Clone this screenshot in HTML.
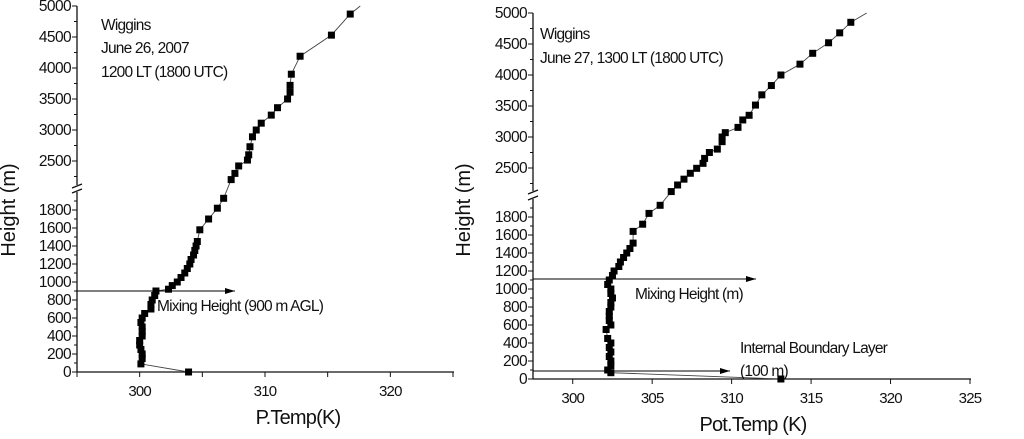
<!DOCTYPE html>
<html><head><meta charset="utf-8"><style>
body{margin:0;background:#fff;}
svg{display:block;font-family:"Liberation Sans",Arial,sans-serif;}
</style></head><body>
<svg id="chart" width="1024" height="439" viewBox="0 0 1024 439" xmlns="http://www.w3.org/2000/svg"></svg>
<script>
// Panel 1 data (June 26)
const temps1 = [303.9,300.1,300.2,300.2,300.1,300.0,300.0,300.2,300.2,300.2,300.1,300.2,300.4,300.9,300.9,301.0,301.2,301.3,302.3,302.6,303.0,303.3,303.6,303.8,304.0,304.1,304.3,304.4,304.5,304.6,304.8,305.5,306.2,306.7,307.3,307.6,307.9,308.6,308.7,308.8,309.0,309.3,309.7,310.5,311.0,311.8,312.0,312.0,312.1,312.8,315.3,316.8];
const heights1 = [0,90,150,200,250,300,350,400,450,500,550,600,650,700,750,800,850,900,920,960,1000,1050,1100,1150,1200,1250,1300,1350,1400,1450,1580,1700,1820,1930,2200,2300,2420,2515,2600,2730,2890,3000,3110,3240,3360,3500,3610,3720,3900,4190,4530,4870];
// Panel 2 data (June 27)
const temps2 = [313.1,302.4,302.2,302.4,302.4,302.3,302.4,302.3,302.4,302.2,302.1,302.4,302.3,302.3,302.3,302.4,302.4,302.5,302.4,302.4,302.2,302.3,302.5,302.6,302.9,303.0,303.2,303.4,303.6,303.8,303.8,304.4,304.8,305.5,306.2,306.6,307.0,307.4,307.8,308.2,308.3,308.6,309.1,309.4,309.4,309.6,310.4,310.7,311.1,311.5,311.9,312.5,313.1,314.3,315.1,316.1,316.8,317.5];
const heights2 = [0,70,100,150,200,250,300,350,400,450,550,600,650,700,750,800,850,900,950,1000,1050,1100,1150,1200,1250,1300,1350,1400,1450,1510,1640,1720,1840,1930,2120,2226,2320,2415,2495,2575,2655,2750,2805,2925,3000,3070,3155,3275,3350,3515,3680,3830,4000,4175,4350,4520,4680,4850];
const lowTicks = [0,200,400,600,800,1000,1200,1400,1600,1800];
const highTicks = [2500,3000,3500,4000,4500,5000];
const xTicks1 = [300,310,320];
const xTicks2 = [300,305,310,315,320,325];

const NS="http://www.w3.org/2000/svg";
const svg=document.getElementById('chart');
function mk(tag,attrs,parent){const e=document.createElementNS(NS,tag);for(const k in attrs)e.setAttribute(k,attrs[k]);(parent||svg).appendChild(e);return e;}
function txt(x,y,s,size,anchor,parent){const t=mk('text',{x:x,y:y,'font-size':size,'text-anchor':anchor||'start',fill:'#111'},parent);t.textContent=s;return t;}

function panel(cfg){
  const g=mk('g',{});
  
  
  const xs=v=>cfg.ax+(v-cfg.xmin)/(cfg.xmax-cfg.xmin)*(cfg.axEnd-cfg.ax);
  const ys=h=>h<=2000? cfg.y0-(h)*(162/1800) : cfg.y2500-(h-2500)*(31/500);
  const yax=mk('g',{},g);
  
  
  mk('line',{x1:cfg.ax,y1:cfg.y0,x2:cfg.ax,y2:cfg.breakLow,stroke:'#111','stroke-width':1.3},yax);
  mk('line',{x1:cfg.ax,y1:cfg.breakHigh,x2:cfg.ax,y2:ys(5000),stroke:'#111','stroke-width':1.3},yax);
  mk('line',{x1:cfg.ax-5,y1:cfg.breakLow+1,x2:cfg.ax+5,y2:cfg.breakLow-3,stroke:'#111','stroke-width':1.3},yax);
  mk('line',{x1:cfg.ax-5,y1:cfg.breakHigh+3,x2:cfg.ax+5,y2:cfg.breakHigh-1,stroke:'#111','stroke-width':1.3},yax);
  for(let h=0;h<=1900;h+=100){const y=ys(h);mk('line',{x1:cfg.ax-(h%200==0?5:3),y1:y,x2:cfg.ax,y2:y,stroke:'#111'},yax);}
  for(let h=2250;h<=5000;h+=250){const y=ys(h);mk('line',{x1:cfg.ax-(h%500==0?5:3),y1:y,x2:cfg.ax,y2:y,stroke:'#111'},yax);}
  lowTicks.concat(highTicks).forEach(h=>{txt(cfg.ax-6,ys(h)+5,String(h),15.5,'end',yax).setAttribute('letter-spacing','-0.6');});
  const xax=mk('g',{},g);
  
  
  mk('line',{x1:cfg.ax,y1:cfg.y0,x2:cfg.axEnd+1,y2:cfg.y0,stroke:'#111','stroke-width':1.3},xax);
  for(let v=Math.ceil(cfg.xmin/5)*5;v<=cfg.xmax;v+=5){mk('line',{x1:xs(v),y1:cfg.y0,x2:xs(v),y2:cfg.y0+5,stroke:'#111'},xax);}
  cfg.xt.forEach(v=>{txt(xs(v),cfg.y0+24,String(v),15,'middle',xax).setAttribute('letter-spacing','-0.8');});
  const xt=txt(cfg.xtitleX,cfg.y0+52,cfg.xtitle,20,'middle',g);
  xt.setAttribute('letter-spacing','-0.8');
  
  const yt=txt(0,0,'Height (m)',20,'middle',g);
  yt.setAttribute('transform','translate('+cfg.ytx+',210) rotate(-90)');
  
  let d='';
  cfg.T.forEach((t,i)=>{d+=(i?'L':'M')+xs(t).toFixed(1)+','+ys(cfg.H[i]).toFixed(1);});
  d+='L'+xs(cfg.endT)+','+ys(5000);
  const line=mk('path',{d:d,fill:'none',stroke:'#444','stroke-width':0.9},g);
  
  cfg.T.forEach((t,i)=>{
    const r=mk('rect',{x:xs(t)-3.5,y:ys(cfg.H[i])-3.5,width:7,height:7,fill:'#000'},g);
    
    
  });
  return {xs,ys,g};
}

const p1=panel({name:'panel-june-26',ax:77,axEnd:453,xmin:295,xmax:325,y0:372,y2500:161,breakLow:192,breakHigh:185,xt:xTicks1,T:temps1,H:heights1,endT:317.6,xtitle:'P.Temp(K)',xtitleX:298,ytx:15});
const p2=panel({name:'panel-june-27',ax:533,axEnd:970,xmin:297.5,xmax:325,y0:379,y2500:168,breakLow:199,breakHigh:191,xt:xTicks2,T:temps2,H:heights2,endT:318.5,xtitle:'Pot.Temp (K)',xtitleX:753,ytx:470});

const defs=mk('defs',{});
const mkr=mk('marker',{id:'ah',markerWidth:10,markerHeight:6,refX:10,refY:3,orient:'auto',markerUnits:'userSpaceOnUse'},defs);
mk('path',{d:'M0,0L10,3L0,6Z',fill:'#000'},mkr);

function arrow(x1,y,x2,name,g){const a=mk('line',{x1:x1,y1:y,x2:x2,y2:y,stroke:'#000','stroke-width':1,'marker-end':'url(#ah)'},g);}
arrow(77,p1.ys(900),235,'mixing-height-arrow',p1.g);
arrow(533,279,756,'mixing-height-arrow',p2.g);
arrow(533,371,730,'ibl-arrow',p2.g);

function label(x,y,s,name,g){const t=txt(x,y,s,15.5,'start',g);t.setAttribute('letter-spacing','-0.8');}
label(101,30,'Wiggins','site-label',p1.g);
label(101,53,'June 26, 2007','date-label',p1.g);
label(101,77,'1200 LT (1800 UTC)','time-label',p1.g);
label(157,311,'Mixing Height (900 m AGL)','mixing-height-label',p1.g);
label(540,39,'Wiggins','site-label',p2.g);
label(540,63,'June 27, 1300 LT (1800 UTC)','date-time-label',p2.g);
label(635,299,'Mixing Height (m)','mixing-height-label',p2.g);
label(740,353,'Internal Boundary Layer','ibl-label',p2.g);
label(740,376,'(100 m)','ibl-height-label',p2.g);
</script>
</body></html>
